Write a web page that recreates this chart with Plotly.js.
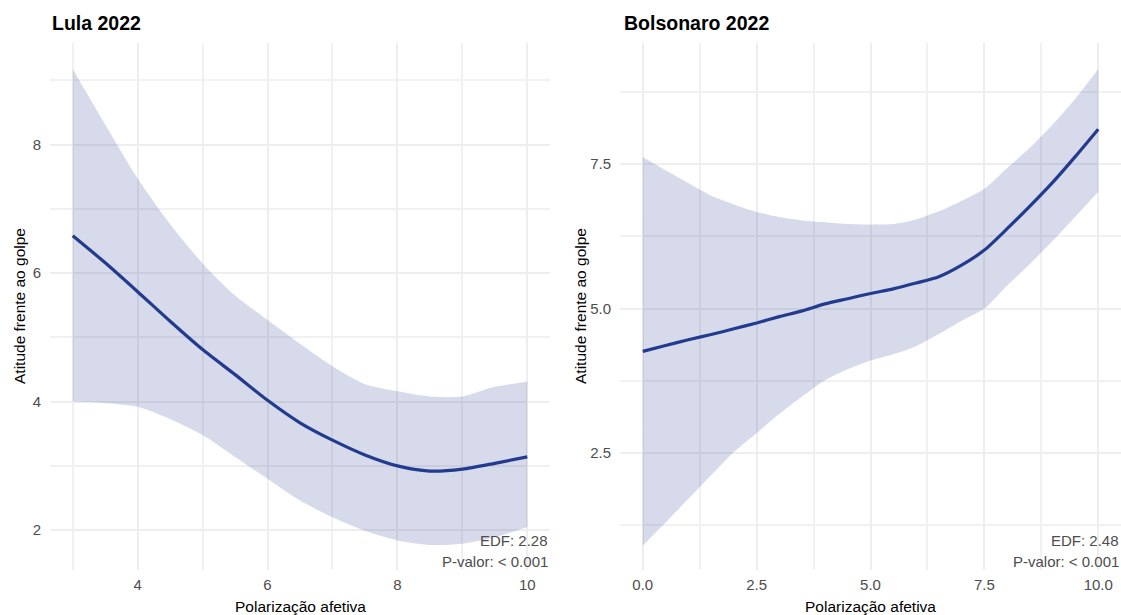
<!DOCTYPE html>
<html>
<head>
<meta charset="utf-8">
<script src="https://cdn.plot.ly/plotly-3.0.1.min.js"></script>
<style>html,body{margin:0;padding:0;background:#fff;}#chart{width:1121px;height:615px;}</style>
</head>
<body>
<div id="chart"></div>
<script>
// Lula 2022
const lulaX     = [3, 3.5, 4, 4.5, 5, 5.5, 6, 6.5, 7, 7.5, 8, 8.5, 9, 9.5, 10];
const lulaFit   = [6.58, 6.16, 5.71, 5.25, 4.81, 4.42, 4.02, 3.67, 3.40, 3.17, 3.00, 2.92, 2.95, 3.04, 3.14];
const lulaUpper = [9.17, 8.31, 7.47, 6.76, 6.15, 5.65, 5.27, 4.90, 4.55, 4.27, 4.16, 4.08, 4.08, 4.23, 4.31];
const lulaLower = [4.00, 3.98, 3.92, 3.73, 3.48, 3.14, 2.80, 2.46, 2.20, 1.99, 1.84, 1.77, 1.79, 1.89, 2.05];

// Bolsonaro 2022
const bolsX     = [0, 0.5, 1, 1.5, 2, 2.5, 3, 3.5, 4, 4.5, 5, 5.5, 6, 6.5, 7, 7.5, 8, 8.5, 9, 9.5, 10];
const bolsFit   = [4.26, 4.36, 4.46, 4.55, 4.65, 4.75, 4.86, 4.96, 5.08, 5.17, 5.26, 5.34, 5.44, 5.55, 5.75, 6.01, 6.38, 6.77, 7.18, 7.63, 8.10];
const bolsUpper = [7.62, 7.39, 7.17, 6.95, 6.80, 6.67, 6.58, 6.52, 6.49, 6.46, 6.45, 6.46, 6.54, 6.68, 6.86, 7.07, 7.43, 7.78, 8.18, 8.63, 9.14];
const bolsLower = [0.90, 1.30, 1.71, 2.12, 2.52, 2.85, 3.18, 3.48, 3.76, 3.95, 4.10, 4.21, 4.35, 4.56, 4.79, 5.00, 5.40, 5.77, 6.17, 6.59, 7.02];

const panelTitles = ["Lula 2022", "Bolsonaro 2022"];
const xTitle = "Polarização afetiva";
const yTitle = "Atitude frente ao golpe";
const edfLabels = ["EDF: 2.28", "EDF: 2.48"];
const pLabels = ["P-valor: < 0.001", "P-valor: < 0.001"];

const W = 1121, H = 615;
const px = v => v / W;
const py = v => 1 - v / H;

const lineColor = "#233b8e";
const bandColor = "rgba(35,57,142,0.19)";
const gridColor = "#eeeeee";
const minorGridColor = "#f1f1f1";
const tickFont = {family: "Liberation Sans, Arial, sans-serif", size: 15, color: "#4d4d4d"};

function bandTraces(x, lo, hi, fit, xa, ya) {
  return [
    {x: x, y: lo, xaxis: xa, yaxis: ya, type: "scatter", mode: "lines",
     line: {width: 0, shape: "spline", smoothing: 0.7, color: bandColor}, hoverinfo: "skip"},
    {x: x, y: hi, xaxis: xa, yaxis: ya, type: "scatter", mode: "lines", fill: "tonexty",
     fillcolor: bandColor, line: {width: 0, shape: "spline", smoothing: 0.7, color: bandColor}, hoverinfo: "skip"},
    {x: x, y: fit, xaxis: xa, yaxis: ya, type: "scatter", mode: "lines",
     line: {width: 3.2, shape: "spline", smoothing: 0.7, color: lineColor}, hoverinfo: "skip"}
  ];
}

const data = [].concat(
  bandTraces(lulaX, lulaLower, lulaUpper, lulaFit, "x", "y"),
  bandTraces(bolsX, bolsLower, bolsUpper, bolsFit, "x2", "y2")
);

const yDomain = [py(570), py(43)];
const minorStyle = {showgrid: true, gridcolor: minorGridColor, gridwidth: 2, ticks: ""};
const axBase = {
  showgrid: true, gridcolor: gridColor, gridwidth: 2,
  zeroline: false, showline: false, ticks: "", tickfont: tickFont,
  fixedrange: true
};

const layout = {
  width: W, height: H,
  margin: {l: 0, r: 0, t: 0, b: 0},
  paper_bgcolor: "#fff", plot_bgcolor: "#fff",
  showlegend: false, hovermode: false, dragmode: false,
  xaxis: Object.assign({}, axBase, {domain: [px(50), px(550)], range: [2.65, 10.35],
    tickmode: "array", tickvals: [4, 6, 8, 10], ticklabelstandoff: 4,
    minor: Object.assign({tickmode: "array", tickvals: [3, 5, 7, 9]}, minorStyle)}),
  yaxis: Object.assign({}, axBase, {domain: yDomain, range: [1.38, 9.58],
    tickmode: "array", tickvals: [2, 4, 6, 8], ticklabelstandoff: 8,
    minor: Object.assign({tickmode: "array", tickvals: [3, 5, 7, 9]}, minorStyle)}),
  xaxis2: Object.assign({}, axBase, {domain: [px(620), 1], range: [-0.5, 10.5], anchor: "y2",
    tickmode: "array", tickvals: [0, 2.5, 5, 7.5, 10], tickformat: ".1f", ticklabelstandoff: 4,
    minor: Object.assign({tickmode: "array", tickvals: [1.25, 3.75, 6.25, 8.75]}, minorStyle)}),
  yaxis2: Object.assign({}, axBase, {domain: yDomain, range: [0.48, 9.59], anchor: "x2",
    tickmode: "array", tickvals: [2.5, 5, 7.5], tickformat: ".1f", ticklabelstandoff: 8,
    minor: Object.assign({tickmode: "array", tickvals: [1.25, 3.75, 6.25, 8.75]}, minorStyle)}),
  annotations: []
};

const titleFont = {family: "Liberation Sans, Arial, sans-serif", size: 19.5, color: "#000"};
const axTitleFont = {family: "Liberation Sans, Arial, sans-serif", size: 15.5, color: "#000"};
const noteFont = {family: "Liberation Sans, Arial, sans-serif", size: 15, color: "#4d4d4d"};

const panels = [
  {titleX: 50, left: 50, right: 550, yTitleX: 19, noteX: 550},
  {titleX: 622, left: 620, right: 1121, yTitleX: 580, noteX: 1121}
];
panels.forEach((p, i) => {
  layout.annotations.push(
    {xref: "paper", yref: "paper", x: px(p.titleX), y: py(23), xanchor: "left", yanchor: "middle",
     text: "<b>" + panelTitles[i] + "</b>", showarrow: false, font: titleFont},
    {xref: "paper", yref: "paper", x: px((p.left + p.right) / 2), y: py(606), xanchor: "center", yanchor: "middle",
     text: xTitle, showarrow: false, font: axTitleFont},
    {xref: "paper", yref: "paper", x: px(p.yTitleX), y: py(306), xanchor: "center", yanchor: "middle",
     text: yTitle, textangle: -90, showarrow: false, font: axTitleFont},
    {xref: "paper", yref: "paper", x: px(p.noteX), y: py(540), xanchor: "right", yanchor: "middle",
     text: edfLabels[i], showarrow: false, font: noteFont},
    {xref: "paper", yref: "paper", x: px(p.noteX), y: py(561), xanchor: "right", yanchor: "middle",
     text: pLabels[i], showarrow: false, font: noteFont}
  );
});

Plotly.newPlot("chart", data, layout, {displayModeBar: false, scrollZoom: false, doubleClick: false});
</script>
</body>
</html>
